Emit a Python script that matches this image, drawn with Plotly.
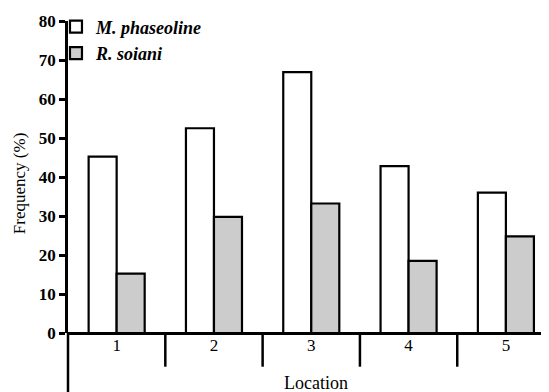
import plotly.graph_objects as go

locations = ["1", "2", "3", "4", "5"]
m_phaseoline = [45.2, 52.5, 66.9, 42.8, 36.0]
r_soiani = [15.2, 29.8, 33.2, 18.5, 24.8]
y_ticks = [0, 10, 20, 30, 40, 50, 60, 70, 80]

FONT = "Liberation Serif, Times New Roman, serif"

fig = go.Figure()
fig.add_trace(go.Bar(
    x=locations, y=m_phaseoline, name="M. phaseoline",
    marker=dict(color="white", line=dict(color="black", width=2.2)),
))
fig.add_trace(go.Bar(
    x=locations, y=r_soiani, name="R. soiani",
    marker=dict(color="#cccccc", line=dict(color="black", width=2.2)),
))

n = len(locations)
shapes = []
# category separators below the x axis
for i in range(n - 1):
    shapes.append(dict(type="line", xref="x", yref="paper", x0=i + 0.5, x1=i + 0.5,
                       y0=0, y1=-0.108, line=dict(color="black", width=2.5)))
# y axis extension below zero
shapes.append(dict(type="line", xref="paper", yref="paper", x0=0, x1=0,
                   y0=0, y1=-0.2, line=dict(color="black", width=2.5)))

fig.update_layout(
    width=541, height=384,
    margin=dict(l=60, r=0, t=11, b=59),
    paper_bgcolor="white", plot_bgcolor="white",
    barmode="group", bargap=0.424, bargroupgap=0,
    font=dict(family=FONT, color="black", size=16),
    showlegend=True,
    legend=dict(x=-0.025, y=1.04, xanchor="left", yanchor="top",
                bgcolor="rgba(0,0,0,0)", tracegroupgap=0,
                font=dict(family=FONT, size=18, color="black", style="italic", weight="bold")),
    xaxis=dict(type="category", range=[-0.5, 4.443], showline=False, ticks="",
               showgrid=False, zeroline=False,
               tickfont=dict(family=FONT, size=17, color="black")),
    yaxis=dict(range=[0, 80], tickvals=y_ticks, showline=True, linecolor="black",
               linewidth=2.5, ticks="outside", ticklen=6, tickwidth=2.5,
               tickcolor="black", showgrid=False, zeroline=True, zerolinecolor="black",
               zerolinewidth=2.5,
               tickfont=dict(family=FONT, size=17, color="black", weight="bold")),
    shapes=shapes,
    annotations=[
        dict(text="Frequency (%)", xref="paper", yref="paper", x=-0.102, y=0.48,
             xanchor="center", yanchor="middle", textangle=-90, showarrow=False,
             font=dict(family=FONT, size=17, color="black")),
        dict(text="Location", xref="paper", yref="paper", x=0.515, y=-0.159,
             xanchor="center", yanchor="middle", showarrow=False,
             font=dict(family=FONT, size=18, color="black")),
    ],
)

fig.write_html("out.html")
